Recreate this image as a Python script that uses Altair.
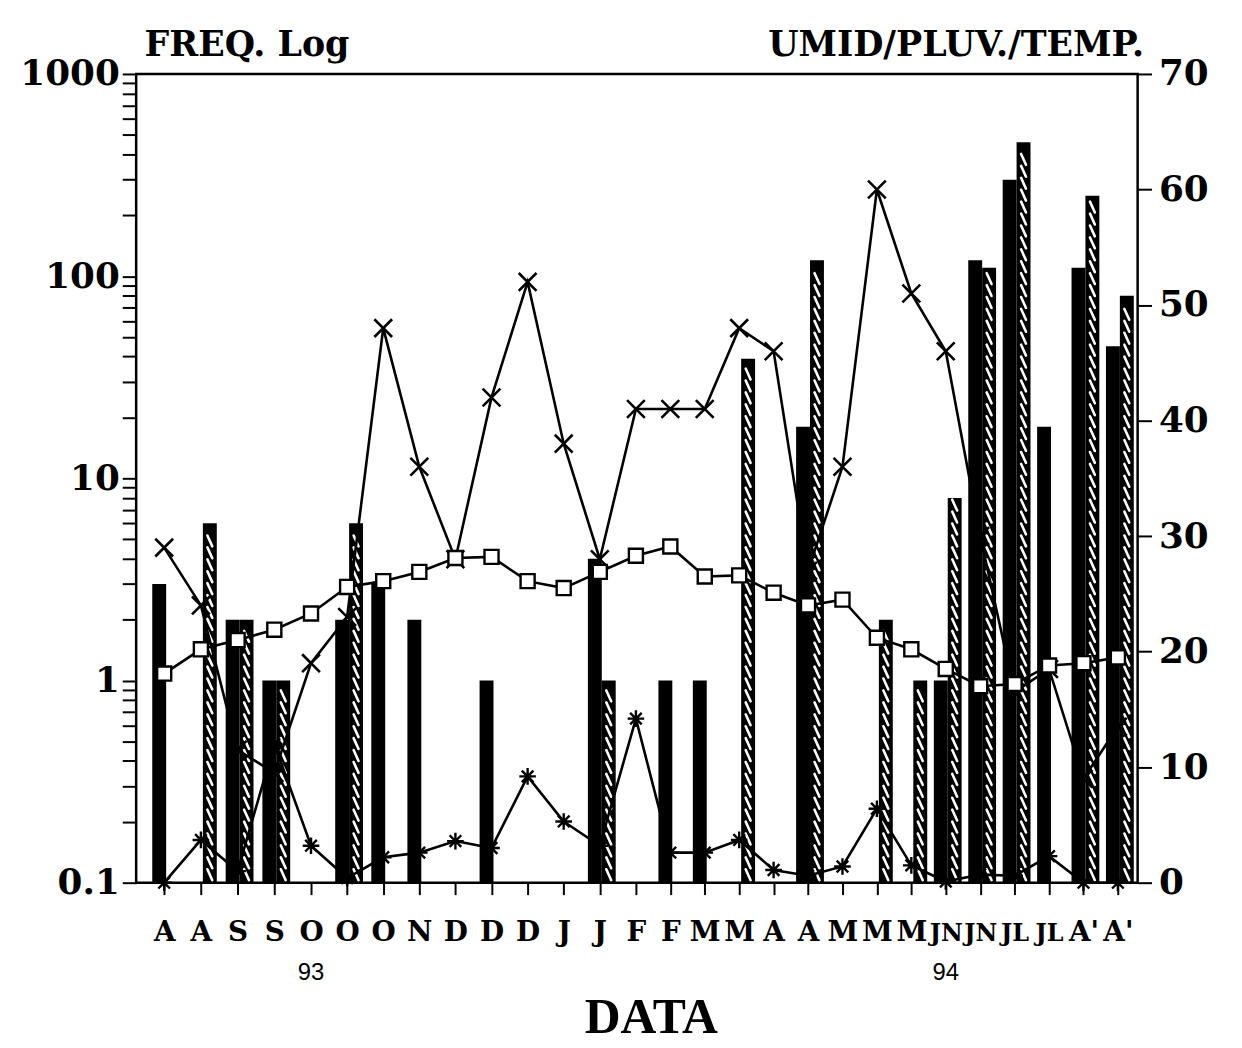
import json
import numpy as np
import pandas as pd
import altair as alt

# ---------------- data ----------------
labels = ["A", "A", "S", "S", "O", "O", "O", "N", "D", "D", "D", "J", "J", "F",
          "F", "M", "M", "A", "A", "M", "M", "M", "JN", "JN", "JL", "JL", "A'", "A'"]
freq_black = [3, 0, 2, 1, 0, 2, 3, 2, 0, 1, 0, 0, 4, 0,
              1, 1, 0, 0, 18, 0, 0, 0, 1, 120, 300, 18, 110, 45]
freq_hatch = [0, 6, 2, 1, 0, 6, 0, 0, 0, 0, 0, 0, 1, 0,
              0, 0, 39, 0, 120, 0, 2, 1, 8, 110, 460, 0, 250, 80]
cross_series = [29, 24, 11.5, 9.5, 19, 23, 48, 36, 28, 42, 52, 38, 28, 41,
                41, 41, 48, 46, 27, 36, 60, 51, 46, 30, 16.5, 18.5, 9, 13.5]
square_series = [18.1, 20.2, 21.0, 21.9, 23.3, 25.6, 26.1, 26.9, 28.1, 28.2, 26.1, 25.5, 26.9, 28.3,
                 29.1, 26.5, 26.6, 25.1, 24.0, 24.5, 21.2, 20.2, 18.5, 17.0, 17.2, 18.8, 19.0, 19.5]
star_series = [0, 3.7, 1.0, 12, 3.2, 0.4, 2.2, 2.6, 3.6, 3.0, 9.2, 5.3, 3.2, 14.2,
               2.6, 2.6, 3.7, 1.1, 0.6, 1.4, 6.4, 1.5, 0.1, 0.7, 0.6, 2.3, 0, 0]
year_index = [4, 22]
year_text = ["93", "94"]

right_ticks = [0, 10, 20, 30, 40, 50, 60, 70]

# ---------------- tables ----------------
idx = list(range(len(labels)))
bars = pd.DataFrame({"i": idx, "black": freq_black, "hatch": freq_hatch})
bars["base"] = 0.1

lines = pd.DataFrame({"i": idx, "cross": cross_series,
                      "square": square_series, "star": star_series})
long = lines.melt(id_vars="i", var_name="series", value_name="val")

years = pd.DataFrame({"i": year_index, "t": year_text})

W, H = 1008, 814
PX_DEC = H / 4.0
# white hatch dashes evenly spaced (in log units) inside each hatched bar
rows = []
step = 12 / PX_DEC
for i, v in enumerate(freq_hatch):
    if v > 0:
        top = np.log10(v) - 7 / PX_DEC
        y = -1 + 8 / PX_DEC
        while y <= top:
            rows.append({"i": i, "d": 10 ** y})
            y += step
dashes = pd.DataFrame(rows)

minor_vals = []
for e in range(-1, 3):
    for m in range(1, 10):
        minor_vals.append(round(m * 10 ** e, 6))
minor_vals.append(1000)

SERIF = "DejaVu Serif"

x_scale = alt.Scale(domain=[0, 4, 13, 27], range=[23, 176, 503, 993], nice=False, zero=False)
x_axis = alt.Axis(values=idx, labelExpr=json.dumps(labels) + "[datum.value]",
                  labelFont=SERIF, labelFontWeight="bold",
                  labelFontSize={"condition": {"test": "datum.value >= 22 && datum.value <= 25",
                                               "value": 24}, "value": 28},
                  labelColor="black", labelOverlap=False, labelPadding=46,
                  labelBaseline="alphabetic",
                  tickSize=12, tickWidth=2, tickColor="black", domain=False, grid=False,
                  title="DATA", titleFont="Liberation Serif", titleFontWeight="bold",
                  titleFontSize=50, titleColor="black", titleX=518, titleY=151,
                  titleAlign="center", titleBaseline="alphabetic")
x_enc = alt.X("i:Q", scale=x_scale, axis=x_axis)

label_expr_left = ("datum.value == 0.1 ? '0.1' : datum.value == 1 ? '1' : datum.value == 10 ? '10' : "
                   "datum.value == 100 ? '100' : datum.value == 1000 ? '1000' : ''")
left_axis = alt.Axis(orient="left", values=minor_vals, labelExpr=label_expr_left,
                     labelFont=SERIF, labelFontWeight="bold", labelFontSize=36,
                     labelColor="black", labelPadding=3, labelOverlap=False,
                     tickSize=14, tickWidth=2, tickColor="black", domain=False, grid=False,
                     title="FREQ. Log", titleFont=SERIF, titleFontWeight="bold",
                     titleFontSize=35, titleColor="black", titleAngle=0, titleAlign="left",
                     titleX=8, titleY=-19, titleBaseline="alphabetic")
left_scale = alt.Scale(type="log", domain=[0.1, 1000], nice=False)

right_axis = alt.Axis(orient="right", values=right_ticks, format="d",
                      labelFont=SERIF, labelFontWeight="bold", labelFontSize=36,
                      labelColor="black", labelPadding=7,
                      tickSize=14, tickWidth=2, tickColor="black", domain=False, grid=False,
                      title="UMID/PLUV./TEMP.", titleFont=SERIF, titleFontWeight="bold",
                      titleFontSize=35, titleColor="black", titleAngle=0, titleAlign="right",
                      titleX=6, titleY=-19, titleBaseline="alphabetic")
right_scale = alt.Scale(domain=[0, 70], nice=False, zero=True)

base_bars = alt.Chart(bars)
black_bars = base_bars.mark_bar(color="black", size=14, xOffset=-5).encode(
    x=x_enc, y=alt.Y("black:Q", scale=left_scale, axis=left_axis), y2="base:Q"
).transform_filter("datum.black > 0")
hatch_bars = base_bars.mark_bar(color="black", size=14, xOffset=9).encode(
    x=x_enc, y=alt.Y("hatch:Q", scale=left_scale, axis=left_axis), y2="base:Q"
).transform_filter("datum.hatch > 0")
hatch_marks = alt.Chart(dashes).mark_point(
    shape="M-0.45,-1L0.45,1", size=120, filled=False, stroke="white",
    strokeWidth=2.6, strokeCap="round", opacity=1, xOffset=9
).encode(x=x_enc, y=alt.Y("d:Q", scale=left_scale, axis=left_axis))

bar_group = alt.layer(black_bars, hatch_bars, hatch_marks)

y_right = alt.Y("val:Q", scale=right_scale, axis=right_axis)
base_lines = alt.Chart(long)
line_mark = base_lines.mark_line(color="black", strokeWidth=2.6).encode(
    x=x_enc, y=y_right, detail="series:N")
pt_cross = base_lines.mark_point(
    shape="M-1,-1L1,1M-1,1L1,-1", size=320, filled=False, stroke="black",
    strokeWidth=2.6, opacity=1).encode(x=x_enc, y=y_right).transform_filter(
    "datum.series == 'cross'")
pt_star = base_lines.mark_point(
    shape="M-1,0L1,0M0,-1L0,1M-0.7,-0.7L0.7,0.7M-0.7,0.7L0.7,-0.7", size=280,
    filled=False, stroke="black", strokeWidth=2.4, opacity=1).encode(
    x=x_enc, y=y_right).transform_filter("datum.series == 'star'")
pt_square = base_lines.mark_point(
    shape="square", size=200, filled=True, fill="white", stroke="black",
    strokeWidth=2.4, opacity=1).encode(x=x_enc, y=y_right).transform_filter(
    "datum.series == 'square'")

line_group = alt.layer(line_mark, pt_cross, pt_star, pt_square)

year_layer = alt.Chart(years).mark_text(
    font="Liberation Sans", fontSize=24, color="black", baseline="middle", align="center"
).encode(x=x_enc, y=alt.value(905), text="t:N")

chart = alt.layer(bar_group, line_group, year_layer).resolve_scale(
    y="independent"
).properties(
    width=W, height=H,
    background="white",
    autosize=alt.AutoSizeParams(type="none"),
    padding={"left": 129, "top": 63, "right": 97, "bottom": 162},
).configure_view(stroke="black", strokeWidth=2.5)

chart.save("out.html", embed_options={"renderer": "svg", "actions": False})
